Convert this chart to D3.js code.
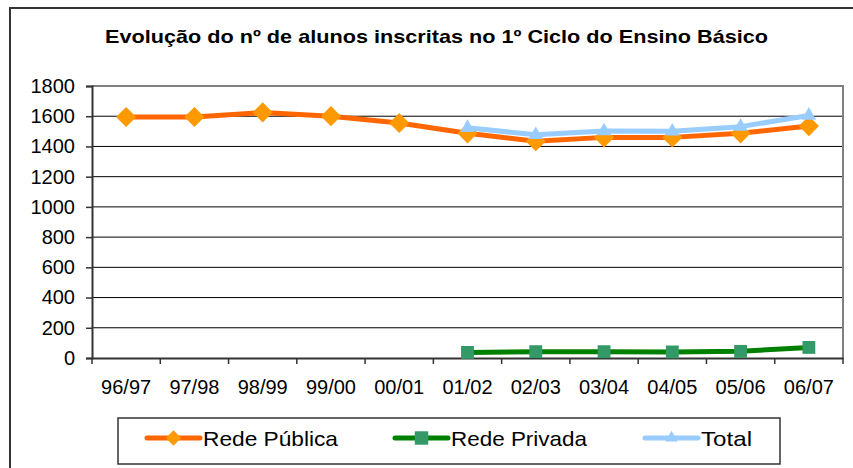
<!DOCTYPE html>
<html>
<head>
<meta charset="utf-8">
<script src="https://cdn.jsdelivr.net/npm/d3@7"></script>
<style>
  body { margin: 0; background: #fff; }
  text { font-family: Arial, "Liberation Sans", sans-serif; fill: #000; }
</style>
</head>
<body>
<div class="d3-chart"></div>
<script>
// data
const years = ["96/97", "97/98", "98/99", "99/00", "00/01", "01/02", "02/03", "03/04", "04/05", "05/06", "06/07"];
const redePublica = [1595, 1595, 1625, 1600, 1555, 1487, 1435, 1460, 1460, 1487, 1535];
const redePrivada = [null, null, null, null, null, 37, 42, 42, 40, 44, 70];
const total = [null, null, null, null, null, 1524, 1477, 1502, 1500, 1531, 1605];
const yTicks = [0, 200, 400, 600, 800, 1000, 1200, 1400, 1600, 1800];
const title = "Evolução do nº de alunos inscritas no 1º Ciclo do Ensino Básico";

const width = 853, height = 468;
const plot = {left: 92, right: 843, top: 86, bottom: 358};

const svg = d3.select(".d3-chart")
  .append("svg")
  .attr("width", width)
  .attr("height", height);

// outer chart frame (runs off the picture on the right and bottom)
svg.append("rect")
  .attr("x", 10).attr("y", 8)
  .attr("width", 900).attr("height", 500)
  .attr("fill", "#fff")
  .attr("stroke", "#333")
  .attr("stroke-width", 2);

svg.append("text")
  .attr("x", 105).attr("y", 43)
  .attr("textLength", 663)
  .attr("lengthAdjust", "spacingAndGlyphs")
  .style("font-size", "19px")
  .style("font-weight", "bold")
  .text(title);

const x = d3.scaleBand()
  .domain(years)
  .range([plot.left, plot.right]);

const y = d3.scaleLinear()
  .domain([0, 1800])
  .range([plot.bottom, plot.top]);

// gridlines
svg.append("g")
  .selectAll("line")
  .data(yTicks.filter(d => d > 0 && d < 1800))
  .join("line")
    .attr("x1", plot.left).attr("x2", plot.right)
    .attr("y1", d => y(d)).attr("y2", d => y(d))
    .attr("stroke", "#000")
    .attr("stroke-width", 1);

// plot area border (top/right gray)
svg.append("path")
  .attr("d", `M${plot.left},${y(1800)}H${plot.right}V${plot.bottom}`)
  .attr("fill", "none")
  .attr("stroke", "#808080")
  .attr("stroke-width", 2);

// y axis
const yAxis = svg.append("g")
  .attr("transform", `translate(${plot.left},0)`)
  .call(d3.axisLeft(y).tickValues(yTicks).tickFormat(d3.format("d")).tickSize(6).tickPadding(11));
yAxis.select(".domain").attr("stroke", "#333").attr("stroke-width", 2);
yAxis.selectAll(".tick line").attr("stroke", "#333").attr("stroke-width", 1.5);
yAxis.selectAll("text").style("font-size", "20px").attr("fill", "#000");

// x axis, ticks between categories
const xAxis = svg.append("g")
  .attr("transform", `translate(0,${plot.bottom})`)
  .call(d3.axisBottom(x).tickSize(0).tickPadding(22));
xAxis.select(".domain").attr("stroke", "#333").attr("stroke-width", 2);
xAxis.selectAll("text").style("font-size", "20px").attr("fill", "#000");
xAxis.selectAll("line.sep")
  .data(years.concat(["end"]))
  .join("line")
    .attr("class", "sep")
    .attr("x1", (d, i) => plot.left + i * x.step())
    .attr("x2", (d, i) => plot.left + i * x.step())
    .attr("y1", 0).attr("y2", 6)
    .attr("stroke", "#333")
    .attr("stroke-width", 1.5);

const series = [
  {name: "Rede Pública", values: redePublica, line: "#FF6600", marker: "#FF9900", symbol: d3.symbolDiamond2, size: 260, legendSize: 150, textW: 135},
  {name: "Rede Privada", values: redePrivada, line: "#008000", marker: "#339966", symbol: d3.symbolSquare2, size: 210, legendSize: 230, textW: 136},
  {name: "Total", values: total, line: "#99CCFF", marker: "#99CCFF", symbol: d3.symbolTriangle2, size: 150, legendSize: 110, textW: 51}
];

const line = d3.line()
  .defined(d => d.v != null)
  .x(d => x(d.k) + x.bandwidth() / 2)
  .y(d => y(d.v));

series.forEach(s => {
  const pts = years.map((k, i) => ({k: k, v: s.values[i]}));
  svg.append("path")
    .datum(pts)
    .attr("d", line)
    .attr("fill", "none")
    .attr("stroke", s.line)
    .attr("stroke-width", 5)
    .attr("stroke-linejoin", "round");

  svg.append("g")
    .selectAll("path")
    .data(pts.filter(d => d.v != null))
    .join("path")
      .attr("transform", d => `translate(${x(d.k) + x.bandwidth() / 2},${y(d.v)})`)
      .attr("d", d3.symbol().type(s.symbol).size(s.size))
      .attr("fill", s.marker);
});

// legend
const legend = svg.append("g");
legend.append("rect")
  .attr("x", 118).attr("y", 418)
  .attr("width", 662).attr("height", 46)
  .attr("fill", "#fff")
  .attr("stroke", "#333")
  .attr("stroke-width", 1.5);

const legendX = [147, 395, 645];
series.forEach((s, i) => {
  const g = legend.append("g").attr("transform", `translate(${legendX[i]},438)`);
  g.append("line")
    .attr("x1", 0).attr("x2", 53)
    .attr("stroke", s.line)
    .attr("stroke-width", 5)
    .attr("stroke-linecap", "round");
  g.append("path")
    .attr("transform", "translate(26.5,0)")
    .attr("d", d3.symbol().type(s.symbol).size(s.legendSize))
    .attr("fill", s.marker);
  g.append("text")
    .attr("x", 56).attr("y", 8)
    .attr("textLength", s.textW)
    .attr("lengthAdjust", "spacingAndGlyphs")
    .style("font-size", "21px")
    .text(s.name);
});
</script>
</body>
</html>
